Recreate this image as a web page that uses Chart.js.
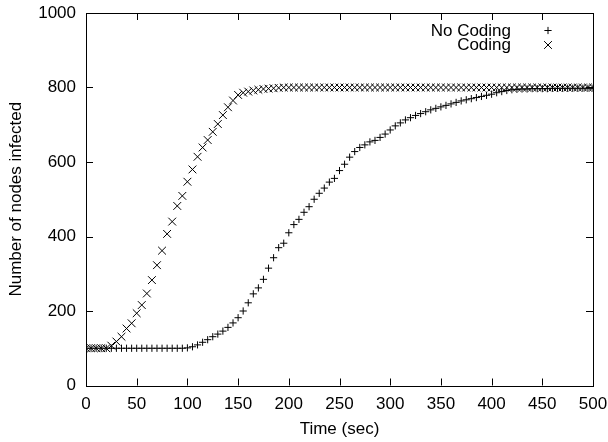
<!DOCTYPE html>
<html>
<head>
<meta charset="utf-8">
<script src="https://cdn.jsdelivr.net/npm/chart.js@4/dist/chart.umd.min.js"></script>
<style>
  html, body { margin: 0; padding: 0; background: #fff; }
  #wrap { width: 608px; height: 442px; }
</style>
</head>
<body>
<div id="wrap"><canvas id="c" width="608" height="442"></canvas></div>
<script>
const times = [0,5,10,15,20,25,30,35,40,45,50,55,60,65,70,75,80,85,90,95,
  100,105,110,115,120,125,130,135,140,145,150,155,160,165,170,175,180,185,190,195,
  200,205,210,215,220,225,230,235,240,245,250,255,260,265,270,275,280,285,290,295,
  300,305,310,315,320,325,330,335,340,345,350,355,360,365,370,375,380,385,390,395,
  400,405,410,415,420,425,430,435,440,445,450,455,460,465,470,475,480,485,490,495,500];

const noCoding = [100,100,100,100,100,100,100,100,100,100,100,100,100,100,100,100,100,100,100,100,
  101,104,109,116,123,131,138,146,156,168,182,200,222,246,262,285,315,343,370,382,
  410,432,446,465,480,500,516,530,546,556,577,594,613,628,639,646,654,658,666,675,
  686,697,705,713,719,725,730,735,740,744,748,752,756,760,764,767,770,773,776,779,
  782,786,789,792,794,795,796,796,797,797,797,797,798,798,798,798,798,798,798,798,798];

const coding = [100,100,100,100,100,107,118,131,153,167,194,216,247,283,323,362,407,440,482,509,
  547,580,614,639,659,681,702,726,747,765,780,786,789,792,794,796,797,798,799,800,
  800,800,800,800,800,800,800,800,800,800,800,800,800,800,800,800,800,800,800,800,
  800,800,800,800,800,800,800,800,800,800,800,800,800,800,800,800,800,800,800,800,
  800,800,800,800,800,800,800,800,800,800,800,800,800,800,800,800,800,800,800,800,800];

const xTicks = [0,50,100,150,200,250,300,350,400,450,500];
const yTicks = [0,200,400,600,800,1000];
const seriesLabels = ['No Coding', 'Coding'];

const FONT = 'Liberation Sans, Arial, Helvetica, sans-serif';

const toPts = (vals) => times.map((t, i) => ({x: t, y: vals[i]}));

const frameAndTicks = {
  id: 'frameAndTicks',
  afterDatasetsDraw(chart) {
    const {ctx, chartArea: a, scales} = chart;
    const L = 7;
    ctx.save();
    ctx.strokeStyle = '#000';
    ctx.lineWidth = 1;
    ctx.beginPath();
    xTicks.forEach(v => {
      const px = Math.round(scales.x.getPixelForValue(v)) + 0.5;
      ctx.moveTo(px, a.bottom); ctx.lineTo(px, a.bottom - L);
      ctx.moveTo(px, a.top); ctx.lineTo(px, a.top + L);
    });
    yTicks.forEach(v => {
      const py = Math.round(scales.y.getPixelForValue(v)) + 0.5;
      ctx.moveTo(a.left, py); ctx.lineTo(a.left + L, py);
      ctx.moveTo(a.right, py); ctx.lineTo(a.right - L, py);
    });
    ctx.stroke();
    ctx.strokeRect(Math.round(a.left) + 0.5, Math.round(a.top) + 0.5,
                   Math.round(a.right - a.left), Math.round(a.bottom - a.top));
    ctx.font = '17px ' + FONT;
    ctx.fillStyle = '#000';
    ctx.textAlign = 'right';
    ctx.textBaseline = 'alphabetic';
    const rows = [35.5, 50];
    chart.data.datasets.forEach((ds, i) => {
      ctx.fillText(ds.label, 511, rows[i]);
      const opts = {pointStyle: ds.pointStyle, radius: ds.pointRadius, rotation: 0, borderWidth: 1};
      ctx.strokeStyle = '#000';
      ctx.lineWidth = 1;
      Chart.helpers.drawPoint(ctx, opts, 548, rows[i] - 5);
    });
    ctx.restore();
  }
};

function noPad(s) { s.paddingLeft = 0; s.paddingRight = 0; s.paddingTop = 0; s.paddingBottom = 0; }

new Chart(document.getElementById('c'), {
  type: 'scatter',
  data: {
    datasets: [
      { label: seriesLabels[0], data: toPts(noCoding), pointStyle: 'cross', pointRadius: 3.6,
        borderColor: '#000', backgroundColor: '#000', borderWidth: 1, showLine: false },
      { label: seriesLabels[1], data: toPts(coding), pointStyle: 'crossRot', pointRadius: 5.5,
        borderColor: '#000', backgroundColor: '#000', borderWidth: 1, showLine: false }
    ]
  },
  options: {
    responsive: false,
    animation: false,
    devicePixelRatio: 1,
    layout: { padding: { left: 0, top: 13, right: 15, bottom: 0 } },
    plugins: { legend: { display: false }, tooltip: { enabled: false } },
    elements: { point: { hoverRadius: 0 } },
    scales: {
      x: {
        type: 'linear', min: 0, max: 500,
        afterBuildTicks(s) { s.ticks = xTicks.map(v => ({value: v})); },
        afterFit(s) { s.height = 56.5; noPad(s); },
        grid: { display: false, drawTicks: false },
        border: { display: false },
        ticks: { color: '#000', padding: 9, maxRotation: 0, font: { family: FONT, size: 17 },
                 callback: (v) => String(v) },
        title: { display: true, text: 'Time (sec)', color: '#000', padding: { top: 0, bottom: 2 },
                 font: { family: FONT, size: 17 } }
      },
      y: {
        type: 'linear', min: 0, max: 1000,
        afterBuildTicks(s) { s.ticks = yTicks.map(v => ({value: v})); },
        afterFit(s) { s.width = 86; noPad(s); },
        grid: { display: false, drawTicks: false },
        border: { display: false },
        ticks: { color: '#000', padding: 10, font: { family: FONT, size: 17 },
                 callback: (v) => String(v) },
        title: { display: true, text: 'Number of nodes infected', color: '#000', padding: { top: 6, bottom: 0 },
                 font: { family: FONT, size: 17 } }
      }
    }
  },
  plugins: [frameAndTicks]
});
</script>
</body>
</html>
